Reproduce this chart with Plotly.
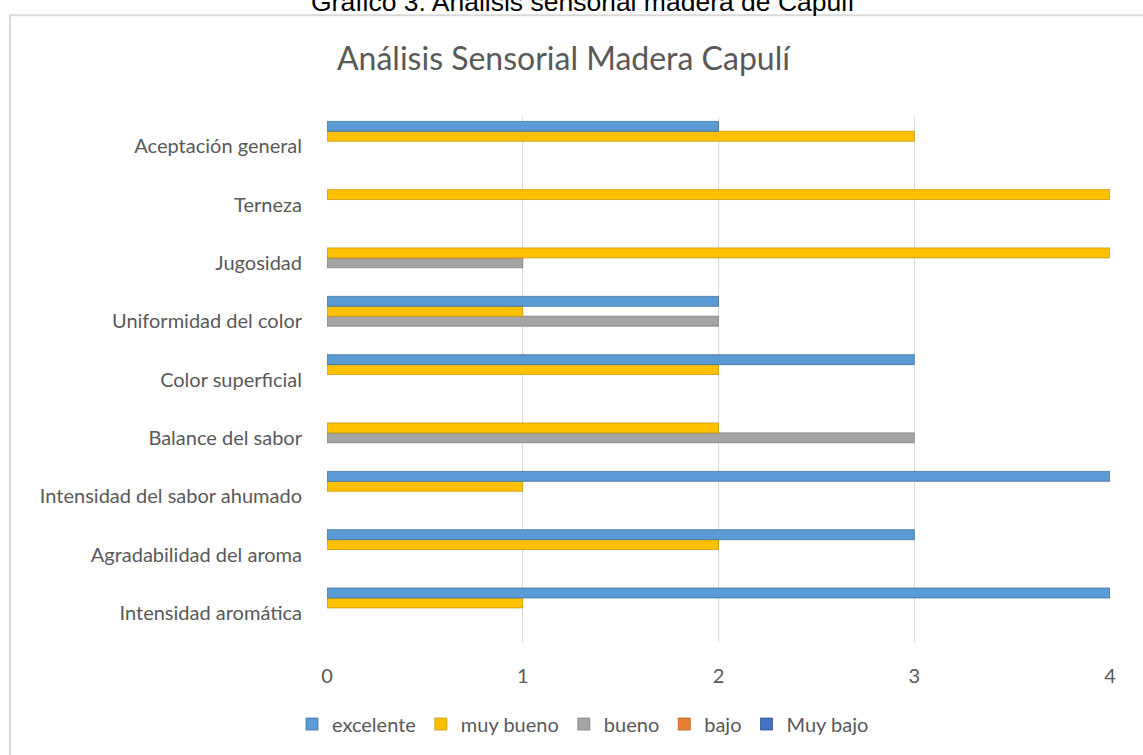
import plotly.graph_objects as go

categories = ["Intensidad aromática", "Agradabilidad del aroma", "Intensidad del sabor ahumado",
              "Balance del sabor", "Color superficial", "Uniformidad del color",
              "Jugosidad", "Terneza", "Aceptación general"]
excelente = [4, 3, 4, 0, 3, 2, 0, 0, 2]
muy_bueno = [1, 2, 1, 2, 2, 1, 4, 4, 3]
bueno = [0, 0, 0, 3, 0, 2, 1, 0, 0]
bajo = [0, 0, 0, 0, 0, 0, 0, 0, 0]
muy_bajo = [0, 0, 0, 0, 0, 0, 0, 0, 0]
x_ticks = [0, 1, 2, 3, 4]

series = [
    ("Muy bajo", muy_bajo, "#4472C4", "#2F528F"),
    ("bajo", bajo, "#ED7D31", "#AE5A21"),
    ("bueno", bueno, "#A5A5A5", "#7F7F7F"),
    ("muy bueno", muy_bueno, "#FFC000", "#C99700"),
    ("excelente", excelente, "#5B9BD5", "#41719C"),
]

fig = go.Figure()
for name, vals, col, edge in series:
    shown = [v if v else None for v in vals]
    fig.add_trace(go.Bar(y=categories, x=shown, name=name, orientation="h",
                         marker=dict(color=col, line=dict(width=0.8, color=edge))))

W, H = 1143, 755
L, R, T, B = 327, 33, 117, 107
pw = W - L - R
ph = H - T - B

def px_x(p):
    return (p - L) / pw

def px_y(p):
    return 1 - (p - T) / ph

font_main = "Lato, Open Sans, sans-serif"
fig.update_layout(
    width=W, height=H,
    margin=dict(l=L, r=R, t=T, b=B),
    paper_bgcolor="white", plot_bgcolor="white",
    barmode="group", bargap=0.15, bargroupgap=0,
    font=dict(family=font_main, color="#595959", size=20),
    showlegend=True,
    legend=dict(orientation="h", traceorder="reversed", x=px_x(583), xanchor="center",
                y=px_y(731), yanchor="middle", font=dict(size=20, color="#595959"),
                itemwidth=30, tracegroupgap=0),
    xaxis=dict(range=[0, 4], tickvals=x_ticks, showgrid=True, gridcolor="#D9D9D9",
               gridwidth=1, zeroline=False, showline=False, ticks="outside",
               ticklen=16, tickcolor="rgba(0,0,0,0)", tickfont=dict(size=20, color="#595959")),
    yaxis=dict(showgrid=False, zeroline=False, showline=False, ticks="outside", ticklen=20,
               tickcolor="rgba(0,0,0,0)", tickfont=dict(size=20, color="#595959"),
               range=[-0.5, 8.5]),
    shapes=[dict(type="rect", xref="paper", yref="paper", x0=px_x(10), x1=px_x(1160),
                 y0=px_y(14), y1=px_y(770), line=dict(color="#D9D9D9", width=2),
                 fillcolor="rgba(0,0,0,0)", layer="below")],
    annotations=[
        dict(text="Análisis Sensorial Madera Capulí", xref="paper", yref="paper",
             x=px_x(564), y=px_y(57), xanchor="center", yanchor="middle", showarrow=False,
             font=dict(size=32, color="#595959", family=font_main)),
        dict(text="Gráfico 3. Análisis sensorial madera de Capulí", xref="paper", yref="paper",
             x=px_x(583), y=px_y(1), xanchor="center", yanchor="middle", showarrow=False,
             font=dict(size=26.5, color="#000000", family="Liberation Sans, Arial, sans-serif")),
    ],
)

fig.write_html("out.html", config={"displayModeBar": False},
               post_script="document.body.style.margin='0';")
